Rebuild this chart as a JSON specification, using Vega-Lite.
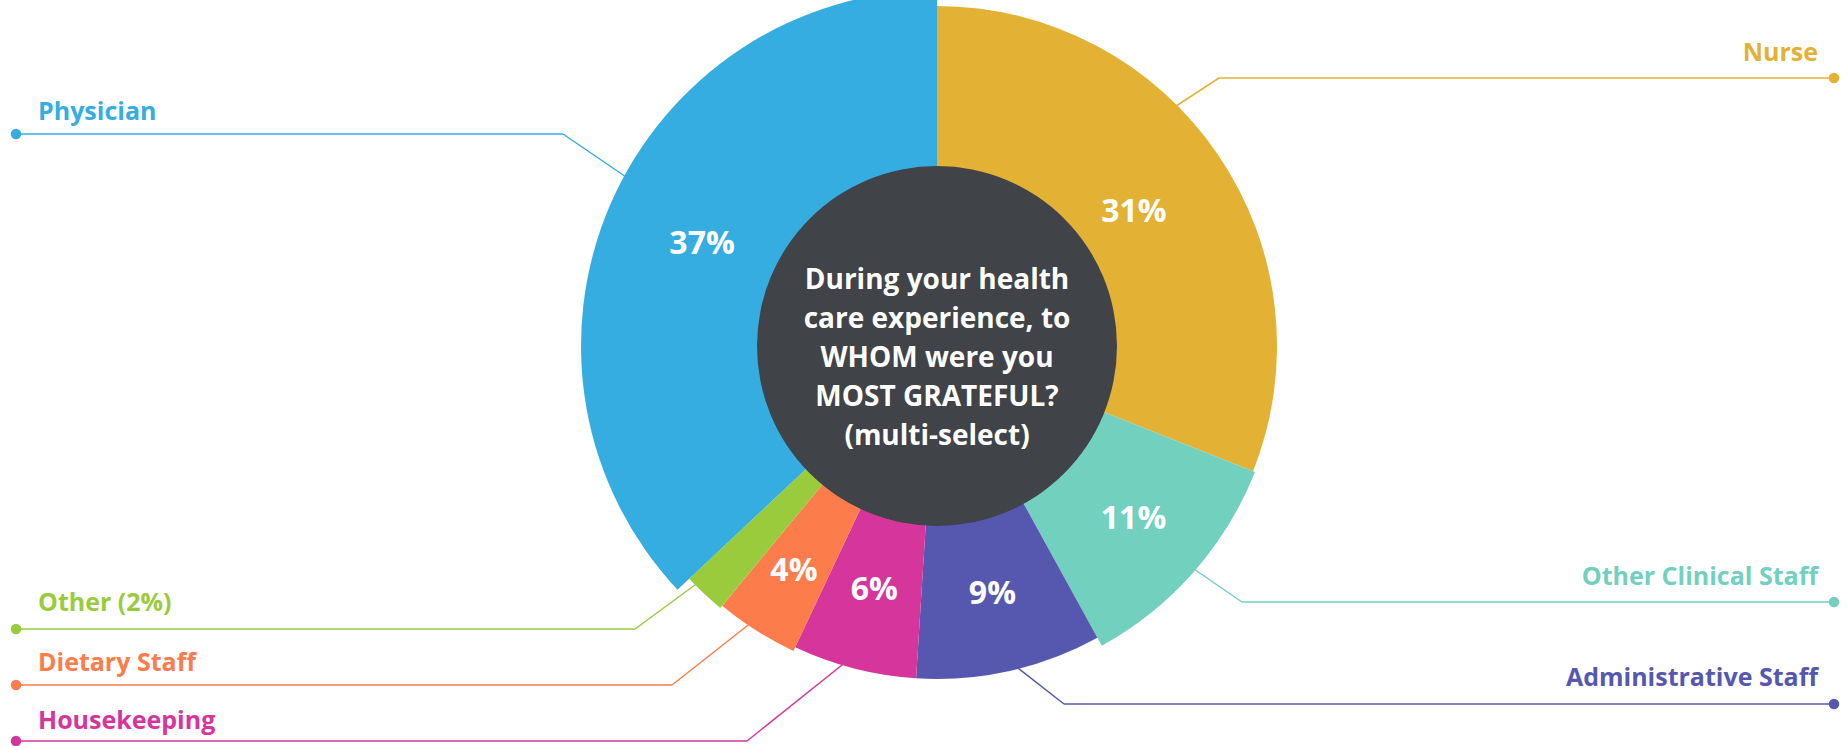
{
  "$schema": "https://vega.github.io/schema/vega-lite/v6.json",
  "width": 1848,
  "height": 692,
  "autosize": {"type": "none"},
  "padding": {"left": 13, "right": -13, "top": 0, "bottom": 54},
  "background": "white",
  "config": {"view": {"stroke": null}, "font": "Open Sans"},
  "data": {"values": [
    {"category": "Nurse", "share": 0.31, "mid": 0.155, "side": "right"},
    {"category": "Other Clinical Staff", "share": 0.11, "mid": 0.365, "side": "right"},
    {"category": "Administrative Staff", "share": 0.09, "mid": 0.465, "side": "right"},
    {"category": "Housekeeping", "share": 0.06, "mid": 0.54, "side": "left"},
    {"category": "Dietary Staff", "share": 0.04, "mid": 0.59, "side": "left"},
    {"category": "Other (2%)", "share": 0.02, "mid": 0.62, "side": "left"},
    {"category": "Physician", "share": 0.37, "mid": 0.815, "side": "left"}
  ]},
  "resolve": {"scale": {"x": "independent", "y": "independent", "radius": "independent"}},
  "layer": [
    {
      "mark": {"type": "rule", "strokeWidth": 1.5},
      "encoding": {
        "x": {"field": "share", "type": "quantitative", "axis": null,
              "scale": {"nice": false, "zero": false,
                        "domain": [0.02, 0.04, 0.06, 0.09, 0.11, 0.155, 0.31, 0.365, 0.37, 0.465, 0.54, 0.59, 0.62, 0.815],
                        "range": [622, 659, 734, 1051, 1229, 1821, 1206, 1821, 550, 1821, 3, 3, 3, 3]}},
        "x2": {"field": "mid"},
        "y": {"field": "share", "type": "quantitative", "axis": null,
              "scale": {"nice": false, "zero": false,
                        "domain": [0.02, 0.04, 0.06, 0.09, 0.11, 0.31, 0.37],
                        "range": [629, 685, 741, 704, 602, 78, 134]}},
        "color": {"field": "category", "type": "nominal", "legend": null,
                  "scale": {"domain": ["Nurse", "Other Clinical Staff", "Administrative Staff", "Housekeeping", "Dietary Staff", "Other (2%)", "Physician"],
                            "range": ["#E3B134", "#72D0BF", "#5558AE", "#D6359B", "#FD7C4B", "#9ACB3C", "#36ADE0"]}}
      }
    },
    {
      "mark": {"type": "rule", "strokeWidth": 1.5},
      "encoding": {
        "x": {"field": "share", "type": "quantitative", "axis": null,
              "scale": {"nice": false, "zero": false,
                        "domain": [0.02, 0.04, 0.06, 0.09, 0.11, 0.155, 0.31, 0.365, 0.37, 0.465, 0.54, 0.59, 0.62, 0.815],
                        "range": [622, 659, 734, 1051, 1229, 1160, 1206, 1178, 550, 1001, 834, 739, 686, 616]}},
        "x2": {"field": "mid"},
        "y": {"field": "share", "type": "quantitative", "axis": null,
              "scale": {"nice": false, "zero": false,
                        "domain": [0.02, 0.04, 0.06, 0.09, 0.11, 0.155, 0.31, 0.365, 0.37, 0.465, 0.54, 0.59, 0.62, 0.815],
                        "range": [629, 685, 741, 704, 602, 108, 78, 567, 134, 665, 661, 622, 582, 179]}},
        "y2": {"field": "mid"},
        "color": {"field": "category", "type": "nominal", "legend": null}
      }
    },
    {
      "mark": {"type": "arc", "stroke": null, "radius2": 0},
      "encoding": {
        "theta": {"field": "share", "type": "quantitative", "stack": true},
        "order": {"field": "mid", "type": "quantitative"},
        "radius": {"field": "share", "type": "quantitative",
                   "scale": {"type": "linear", "nice": false, "zero": true,
                             "domain": [0, 0.02, 0.04, 0.06, 0.09, 0.11, 0.31, 0.37],
                             "range": [0, 340, 337, 333, 333, 342, 340, 356]}},
        "color": {"field": "category", "type": "nominal", "legend": null}
      }
    },
    {
      "data": {"values": [{}]},
      "mark": {"type": "arc", "radius": 180, "theta": 0, "theta2": 6.2832, "color": "#404347"},
      "encoding": {}
    },
    {
      "data": {"values": [{}]},
      "mark": {"type": "text", "color": "white", "fontSize": 28, "fontWeight": "bold", "lineHeight": 39,
               "align": "center", "baseline": "middle", "dy": -65},
      "encoding": {"text": {"value": ["During your health", "care experience, to", "WHOM were you", "MOST GRATEFUL?", "(multi-select)"]}}
    },
    {
      "mark": {"type": "text", "color": "white", "fontSize": 32, "fontWeight": "bold", "align": "center", "baseline": "middle"},
      "encoding": {
        "theta": {"field": "share", "type": "quantitative", "stack": true},
        "order": {"field": "mid", "type": "quantitative"},
        "detail": {"field": "category", "type": "nominal"},
        "radius": {"field": "share", "type": "quantitative",
                   "scale": {"type": "linear", "nice": false, "zero": false,
                             "domain": [0.02, 0.04, 0.06, 0.09, 0.11, 0.31, 0.37],
                             "range": [250, 267, 252, 254, 262, 238, 256]}},
        "text": {"condition": {"test": "datum.share < 0.03", "value": ""}, "field": "share", "type": "quantitative", "format": ".0%"}
      }
    },
    {
      "mark": {"type": "point", "filled": true, "size": 110, "opacity": 1},
      "encoding": {
        "x": {"field": "share", "type": "quantitative", "axis": null,
              "scale": {"nice": false, "zero": false,
                        "domain": [0.02, 0.04, 0.06, 0.09, 0.11, 0.31, 0.37],
                        "range": [3, 3, 3, 1821, 1821, 1821, 3]}},
        "y": {"field": "share", "type": "quantitative", "axis": null,
              "scale": {"nice": false, "zero": false,
                        "domain": [0.02, 0.04, 0.06, 0.09, 0.11, 0.31, 0.37],
                        "range": [629, 685, 741, 704, 602, 78, 134]}},
        "color": {"field": "category", "type": "nominal", "legend": null}
      }
    },
    {
      "transform": [{"filter": "datum.side === 'left'"}],
      "mark": {"type": "text", "fontSize": 25, "fontWeight": "bold", "align": "left", "baseline": "middle"},
      "encoding": {
        "x": {"field": "share", "type": "quantitative", "axis": null,
              "scale": {"nice": false, "zero": false, "domain": [0.02, 0.04, 0.06, 0.37], "range": [25, 25, 25, 25]}},
        "y": {"field": "share", "type": "quantitative", "axis": null,
              "scale": {"nice": false, "zero": false, "domain": [0.02, 0.04, 0.06, 0.37], "range": [603, 663, 721, 112]}},
        "text": {"field": "category", "type": "nominal"},
        "color": {"field": "category", "type": "nominal", "legend": null}
      }
    },
    {
      "transform": [{"filter": "datum.side === 'right'"}],
      "mark": {"type": "text", "fontSize": 25, "fontWeight": "bold", "align": "right", "baseline": "middle"},
      "encoding": {
        "x": {"field": "share", "type": "quantitative", "axis": null,
              "scale": {"nice": false, "zero": false, "domain": [0.09, 0.11, 0.31], "range": [1805, 1805, 1805]}},
        "y": {"field": "share", "type": "quantitative", "axis": null,
              "scale": {"nice": false, "zero": false, "domain": [0.09, 0.11, 0.31], "range": [678, 577, 53]}},
        "text": {"field": "category", "type": "nominal"},
        "color": {"field": "category", "type": "nominal", "legend": null}
      }
    }
  ]
}
